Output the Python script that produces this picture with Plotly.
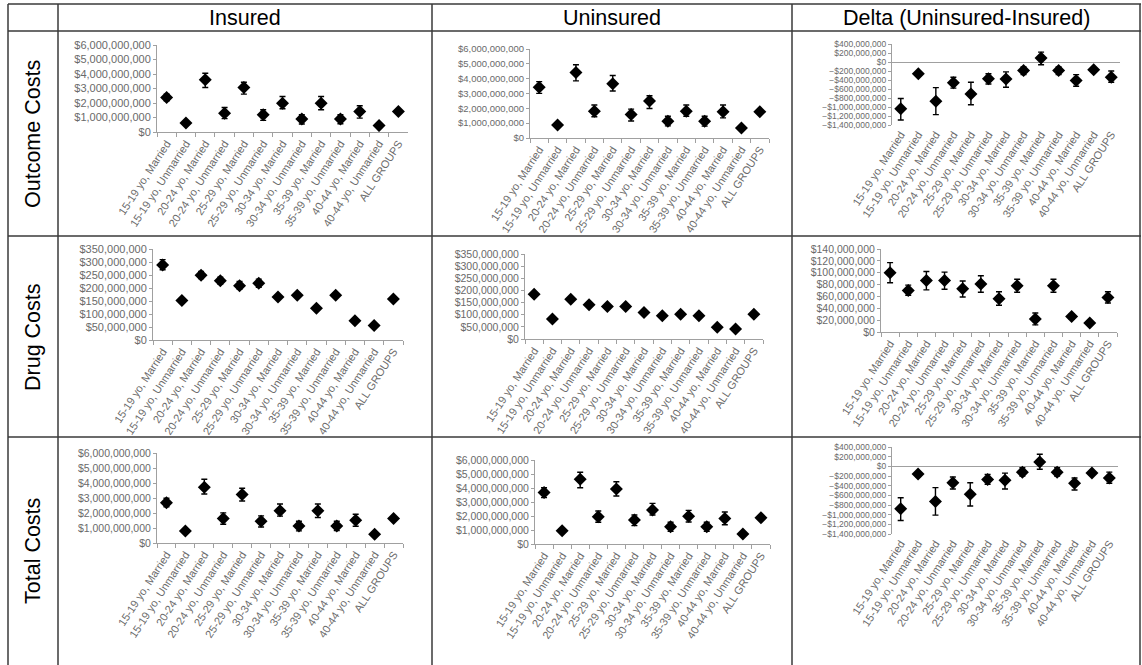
import plotly.graph_objects as go

W, H = 1142, 665

categories = [
    "15-19 yo, Married", "15-19 yo, Unmarried", "20-24 yo, Married", "20-24 yo, Unmarried",
    "25-29 yo, Married", "25-29 yo, Unmarried", "30-34 yo, Married", "30-34 yo, Unmarried",
    "35-39 yo, Married", "35-39 yo, Unmarried", "40-44 yo, Married", "40-44 yo, Unmarried",
    "ALL GROUPS",
]
col_headers = ["Insured", "Uninsured", "Delta (Uninsured-Insured)"]
row_headers = ["Outcome Costs", "Drug Costs", "Total Costs"]

# values in $ millions (value, upper error bound, lower error bound)
outcome_ins = [2380, 620, 3600, 1300, 3070, 1190, 1990, 890, 1990, 890, 1420, 440, 1420]
outcome_ins_hi = [2610, 670, 4050, 1690, 3430, 1530, 2450, 1190, 2450, 1190, 1810, 480, 1490]
outcome_ins_lo = [2150, 570, 3070, 920, 2610, 800, 1600, 550, 1530, 570, 960, 400, 1350]

outcome_unins = [3420, 880, 4410, 1810, 3650, 1580, 2490, 1130, 1810, 1130, 1770, 680, 1770]
outcome_unins_hi = [3800, 930, 4940, 2220, 4210, 1950, 2850, 1470, 2220, 1470, 2220, 720, 1840]
outcome_unins_lo = [3010, 830, 3850, 1430, 3170, 1150, 1990, 820, 1470, 800, 1360, 640, 1700]

outcome_delta = [-1040, -260, -870, -460, -710, -370, -380, -190, 90, -190, -410, -170, -340]
outcome_delta_hi = [-810, -220, -570, -340, -450, -260, -220, -110, 220, -110, -280, -140, -200]
outcome_delta_lo = [-1290, -300, -1170, -580, -950, -490, -560, -280, -60, -280, -540, -200, -450]

drug_ins = [288, 152, 249, 228, 209, 218, 165, 172, 122, 172, 74, 56, 158]
drug_ins_hi = [309, 160, 264, 242, 225, 234, 172, 180, 128, 180, 79, 60, 163]
drug_ins_lo = [270, 144, 236, 215, 196, 203, 158, 164, 116, 164, 69, 52, 153]

drug_unins = [184, 82, 164, 141, 134, 134, 109, 96, 102, 96, 48, 41, 102]
drug_unins_hi = [187, 85, 167, 144, 137, 137, 112, 99, 105, 99, 51, 44, 105]
drug_unins_lo = [181, 79, 161, 138, 131, 131, 106, 93, 99, 93, 45, 38, 99]

drug_delta = [100, 70, 87, 87, 73, 81, 56, 78, 22, 78, 26, 15, 58]
drug_delta_hi = [117, 79, 102, 101, 86, 95, 68, 89, 32, 89, 30, 18, 68]
drug_delta_lo = [83, 62, 71, 72, 59, 67, 45, 67, 12, 67, 22, 12, 49]

total_ins = [2680, 800, 3710, 1630, 3240, 1450, 2150, 1140, 2150, 1140, 1520, 580, 1630]
total_ins_hi = [2980, 860, 4250, 2010, 3650, 1810, 2600, 1450, 2600, 1450, 1920, 620, 1700]
total_ins_lo = [2420, 740, 3270, 1250, 2800, 1070, 1790, 810, 1700, 830, 1120, 540, 1560]

total_unins = [3670, 950, 4620, 1950, 3930, 1710, 2430, 1240, 1980, 1240, 1830, 710, 1880]
total_unins_hi = [4020, 1010, 5120, 2360, 4450, 2070, 2900, 1550, 2400, 1550, 2290, 750, 1950]
total_unins_lo = [3310, 890, 4020, 1550, 3430, 1310, 2070, 900, 1570, 900, 1380, 670, 1810]

total_delta = [-880, -160, -730, -340, -580, -270, -290, -120, 90, -120, -350, -140, -240]
total_delta_hi = [-650, -110, -440, -220, -340, -170, -140, -30, 250, -30, -240, -110, -120]
total_delta_lo = [-1120, -210, -1010, -470, -820, -370, -470, -200, -60, -200, -490, -170, -350]

UNIT = 1e6

panels = [
    # data, pixel box (x0, x1, ytop, ybottom), y range ($M), dtick ($M), tick font size, delta?
    dict(d=(outcome_ins, outcome_ins_hi, outcome_ins_lo), box=(157, 408, 45, 132), yr=(0, 6000), dt=1000, fs=11, delta=False),
    dict(d=(outcome_unins, outcome_unins_hi, outcome_unins_lo), box=(530, 769, 49, 138), yr=(0, 6000), dt=1000, fs=9.5, delta=False),
    dict(d=(outcome_delta, outcome_delta_hi, outcome_delta_lo), box=(892, 1120, 44, 125), yr=(-1400, 400), dt=200, fs=8.5, delta=True),
    dict(d=(drug_ins, drug_ins_hi, drug_ins_lo), box=(153, 403, 249, 340), yr=(0, 350), dt=50, fs=11, delta=False),
    dict(d=(drug_unins, drug_unins_hi, drug_unins_lo), box=(525, 763, 254, 339), yr=(0, 350), dt=50, fs=10.5, delta=False),
    dict(d=(drug_delta, drug_delta_hi, drug_delta_lo), box=(881, 1117, 249, 332), yr=(0, 140), dt=20, fs=10.5, delta=False),
    dict(d=(total_ins, total_ins_hi, total_ins_lo), box=(157, 403, 453, 543), yr=(0, 6000), dt=1000, fs=10.5, delta=False),
    dict(d=(total_unins, total_unins_hi, total_unins_lo), box=(535, 770, 460, 544), yr=(0, 6000), dt=1000, fs=10.5, delta=False),
    dict(d=(total_delta, total_delta_hi, total_delta_lo), box=(892, 1118, 447, 534), yr=(-1400, 400), dt=200, fs=8.5, delta=True),
]

FONT = "Liberation Sans, Arial, sans-serif"
AX_COL = "#a0a0a0"
TXT_COL = "#6a6a6a"


def px(x):
    return x / W


def py(y):
    return 1 - y / H


fig = go.Figure()
layout = {}

for i, p in enumerate(panels, start=1):
    v, hi, lo = p["d"]
    xs = "" if i == 1 else str(i)
    y = [a * UNIT for a in v]
    up = [(h - a) * UNIT for a, h in zip(v, hi)]
    dn = [(a - l) * UNIT for a, l in zip(v, lo)]
    fig.add_trace(go.Scatter(
        x=categories, y=y, mode="markers",
        xaxis="x" + xs, yaxis="y" + xs,
        marker=dict(symbol="diamond", size=10, color="black"),
        error_y=dict(type="data", symmetric=False, array=up, arrayminus=dn,
                     color="black", thickness=1.4, width=3),
        showlegend=False, hoverinfo="skip",
    ))
    x0, x1, yt, yb = p["box"]
    layout["xaxis" + xs] = dict(
        domain=[px(x0), px(x1)], anchor="y" + xs, type="category",
        range=[-0.5, len(categories) - 0.5], automargin=False,
        showgrid=False, zeroline=False,
        showline=not p["delta"], linecolor=AX_COL, linewidth=1,
        ticks="" if p["delta"] else "outside", tickson="boundaries",
        ticklen=4, tickcolor=AX_COL,
        tickangle=-57, tickfont=dict(family=FONT, size=11, color=TXT_COL),
        fixedrange=True,
    )
    layout["yaxis" + xs] = dict(
        domain=[py(yb), py(yt)], anchor="x" + xs, automargin=False,
        range=[p["yr"][0] * UNIT, p["yr"][1] * UNIT], dtick=p["dt"] * UNIT,
        tickformat="$,.0f",
        showgrid=False, zeroline=p["delta"], zerolinecolor=AX_COL, zerolinewidth=1,
        showline=True, linecolor=AX_COL, linewidth=1,
        ticks="outside", ticklen=3, tickcolor=AX_COL,
        tickfont=dict(family=FONT, size=p["fs"], color=TXT_COL),
        fixedrange=True,
    )

# table grid lines (pixel positions)
LINE = dict(color="#3a3a3a", width=1.5)
h_lines = [(8, 1141, 4), (8, 1141, 31), (8, 1141, 236), (8, 1141, 437)]
v_lines = [(8, 4, 665), (58, 4, 665), (432, 4, 665), (792, 4, 665), (1140, 4, 665)]
shapes = []
for x0, x1, yy in h_lines:
    shapes.append(dict(type="line", xref="paper", yref="paper",
                       x0=px(x0), x1=px(x1), y0=py(yy), y1=py(yy), line=LINE))
for xx, y0, y1 in v_lines:
    shapes.append(dict(type="line", xref="paper", yref="paper",
                       x0=px(xx), x1=px(xx), y0=py(y0), y1=py(y1), line=LINE))

annotations = []
col_centers = [245, 612, 966]
for t, cx in zip(col_headers, col_centers):
    annotations.append(dict(text=t, x=px(cx), y=py(18), xref="paper", yref="paper",
                            showarrow=False, xanchor="center", yanchor="middle",
                            font=dict(family=FONT, size=21.5, color="black")))
row_centers = [134, 337, 551]
for t, cy in zip(row_headers, row_centers):
    annotations.append(dict(text=t, x=px(33), y=py(cy), xref="paper", yref="paper",
                            showarrow=False, xanchor="center", yanchor="middle", textangle=-90,
                            font=dict(family=FONT, size=21.5, color="black")))

fig.update_layout(
    width=W, height=H, autosize=False,
    margin=dict(l=0, r=0, t=0, b=0, pad=0, autoexpand=False),
    paper_bgcolor="white", plot_bgcolor="white",
    showlegend=False, shapes=shapes, annotations=annotations,
    **layout,
)

fig.write_html("out.html", config={"displayModeBar": False, "responsive": False},
               post_script="document.body.style.margin='0';document.body.style.overflow='hidden';")
